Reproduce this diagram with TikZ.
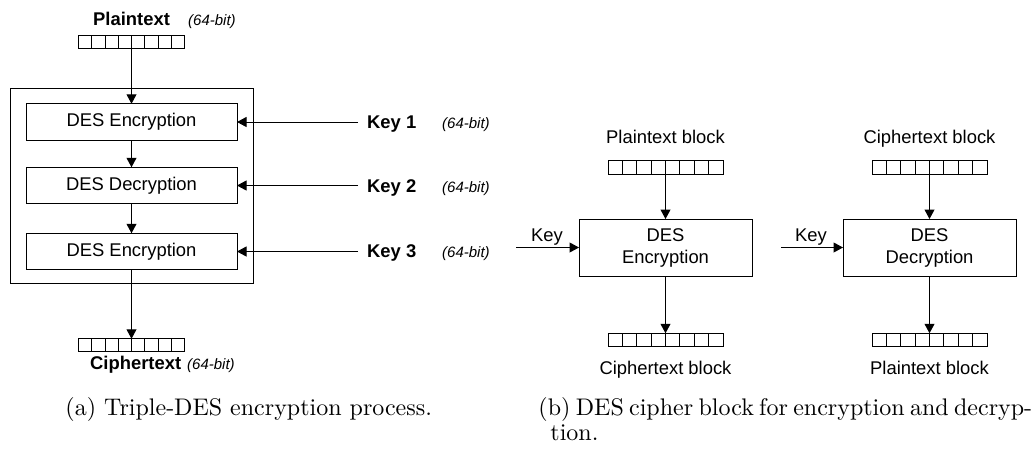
\documentclass[tikz,border=0pt]{standalone}
\usepackage{fontspec}
\newfontfamily\arial{Liberation Sans}
\usetikzlibrary{arrows.meta,calc}
\tikzset{
  box/.style={draw, line width=1pt, inner sep=0pt, outer sep=0pt},
  reg/.style={draw, line width=1pt, minimum width=#1, minimum height=13.5pt, inner sep=0pt, outer sep=0pt,
    path picture={\foreach \i in {1,...,7}{\draw[line width=1pt]
      ($(path picture bounding box.south west)!\i/8!(path picture bounding box.south east)$) --
      ($(path picture bounding box.north west)!\i/8!(path picture bounding box.north east)$);}}},
  arr/.style={line width=1pt, -{Triangle[length=9.5pt,width=10pt]}},
  lbl/.style={font=\arial\fontsize{18.4}{22}\selectfont, inner sep=0pt},
  blbl/.style={font=\arial\bfseries\fontsize{18.4}{22}\selectfont, inner sep=0pt},
  bit/.style={font=\arial\itshape\fontsize{15}{17}\selectfont, inner sep=0pt},
  captext/.style={anchor=base west, scale=2.4, inner sep=0pt},
}
\begin{document}
\begin{tikzpicture}[x=1pt,y=-1pt]
\useasboundingbox (0,0) rectangle (1035,448);
% ---- panel (a)
\node[blbl, anchor=base west] (pt) at (93,25) {Plaintext};
\node[bit, anchor=base west] (ptbit) at (188,25) {(64-bit)};
\node[reg=106pt, minimum height=12.5pt] (ra1) at (131.5,42) {};
\node[box, minimum width=243pt, minimum height=195pt] (outer) at (131.5,185.5) {};
\node[box, lbl, minimum width=211pt, minimum height=36.5pt] (e1) at (131.5,122) {DES Encryption};
\node[box, lbl, minimum width=211pt, minimum height=36.5pt] (d2) at (131.5,185.5) {DES Decryption};
\node[box, lbl, minimum width=211pt, minimum height=36.5pt] (e3) at (131.5,251.5) {DES Encryption};
\node[reg=106pt, minimum height=12.5pt] (ra2) at (131.5,345) {};
\node[blbl, anchor=base west] (ct) at (90,369) {Ciphertext};
\node[bit, anchor=base west] (ctbit) at (187,369) {(64-bit)};
\draw[arr] (ra1.south) -- (e1.north);
\draw[arr] (e1.south) -- (d2.north);
\draw[arr] (d2.south) -- (e3.north);
\draw[arr] (e3.south) -- (ra2.north);
\node[blbl, anchor=base west] (k1) at (367,128) {Key 1};
\node[blbl, anchor=base west] (k2) at (367,192) {Key 2};
\node[blbl, anchor=base west] (k3) at (367,257.5) {Key 3};
\node[bit, anchor=base west] (k1bit) at (442,128) {(64-bit)};
\node[bit, anchor=base west] (k2bit) at (442,192) {(64-bit)};
\node[bit, anchor=base west] (k3bit) at (442,257.5) {(64-bit)};
\coordinate (k1s) at (358,122);
\coordinate (k2s) at (358,185.5);
\coordinate (k3s) at (358,251.5);
\draw[arr] (k1s) -- (e1.east);
\draw[arr] (k2s) -- (d2.east);
\draw[arr] (k3s) -- (e3.east);
% ---- panel (b) left
\node[lbl, anchor=base] (ptb) at (665.5,143) {Plaintext block};
\node[reg=115pt] (rb1) at (665.5,167.5) {};
\node[box, lbl, align=center, minimum width=173pt, minimum height=57pt] (enc) at (665.5,247.5) {DES\\Encryption};
\node[reg=115pt] (rb2) at (665.5,340) {};
\node[lbl, anchor=base] (ctb) at (665.5,374) {Ciphertext block};
\node[lbl, anchor=base east] (kenc) at (563,241) {Key};
\coordinate (kencs) at (516,247.5);
\draw[arr] (rb1.south) -- (enc.north);
\draw[arr] (enc.south) -- (rb2.north);
\draw[arr] (kencs) -- (enc.west);
% ---- panel (b) right
\node[lbl, anchor=base] (ctd) at (929.5,143) {Ciphertext block};
\node[reg=115pt] (rc1) at (929.5,167.5) {};
\node[box, lbl, align=center, minimum width=173pt, minimum height=57pt] (dec) at (929.5,247.5) {DES\\Decryption};
\node[reg=115pt] (rc2) at (929.5,340) {};
\node[lbl, anchor=base] (ptd) at (929.5,374) {Plaintext block};
\node[lbl, anchor=base east] (kdec) at (827,241) {Key};
\coordinate (kdecs) at (781,247.5);
\draw[arr] (rc1.south) -- (dec.north);
\draw[arr] (dec.south) -- (rc2.north);
\draw[arr] (kdecs) -- (dec.west);
% ---- captions
\node[captext] (capa) at (65,415) {(a) Triple-DES encryption process.};
\node[captext] (capb) at (538,415) {\hbox to 205.5pt{(b) DES cipher block for encryption and decryp-}};
\node[captext] (capb2) at (550,440) {tion.};
\end{tikzpicture}
\end{document}
